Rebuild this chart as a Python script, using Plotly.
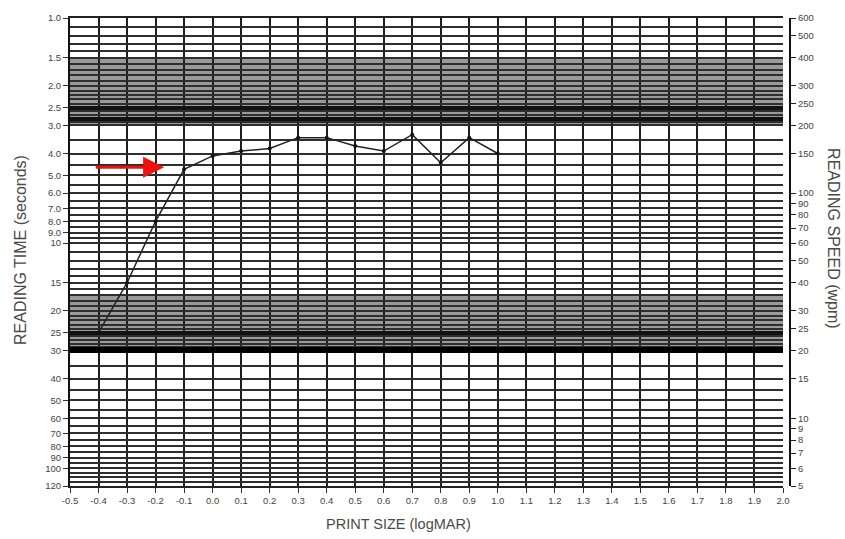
import numpy as np
import plotly.graph_objects as go

# ---------------- data ----------------
print_size = [-0.4, -0.3, -0.2, -0.1, 0.0, 0.1, 0.2, 0.3, 0.4, 0.5, 0.6, 0.7, 0.8, 0.9, 1.0]
reading_time = [25, 15, 8.0, 4.7, 4.1, 3.9, 3.8, 3.4, 3.4, 3.7, 3.9, 3.3, 4.4, 3.4, 4.0]

x_tick_vals = [-0.5, -0.4, -0.3, -0.2, -0.1, 0.0, 0.1, 0.2, 0.3, 0.4, 0.5, 0.6, 0.7,
               0.8, 0.9, 1.0, 1.1, 1.2, 1.3, 1.4, 1.5, 1.6, 1.7, 1.8, 1.9, 2.0]
x_tick_text = ["-0.5", "-0.4", "-0.3", "-0.2", "-0.1", "0.0", "0.1", "0.2", "0.3", "0.4",
               "0.5", "0.6", "0.7", "0.8", "0.9", "1.0", "1.1", "1.2", "1.3", "1.4",
               "1.5", "1.6", "1.7", "1.8", "1.9", "2.0"]

time_tick_vals = [1.0, 1.5, 2.0, 2.5, 3.0, 4.0, 5.0, 6.0, 7.0, 8.0, 9.0, 10, 15, 20, 25,
                  30, 40, 50, 60, 70, 80, 90, 100, 120]
time_tick_text = ["1.0", "1.5", "2.0", "2.5", "3.0", "4.0", "5.0", "6.0", "7.0", "8.0",
                  "9.0", "10", "15", "20", "25", "30", "40", "50", "60", "70", "80",
                  "90", "100", "120"]

speed_tick_vals = [600, 500, 400, 300, 250, 200, 150, 100, 90, 80, 70, 60, 50, 40, 30,
                   25, 20, 15, 10, 9, 8, 7, 6, 5]
speed_tick_text = ["600", "500", "400", "300", "250", "200", "150", "100", "90", "80",
                   "70", "60", "50", "40", "30", "25", "20", "15", "10", "9", "8", "7",
                   "6", "5"]

grid_time_lines = [1.0, 1.1, 1.2, 1.3, 1.4, 1.5, 1.6, 1.7, 1.8, 1.9, 2.0, 2.1, 2.2, 2.3,
                   2.4, 2.5, 2.6, 2.7, 2.8, 2.9, 3.0, 3.5, 4.0, 4.5, 5.0, 5.5, 6.0, 6.5,
                   7.0, 7.5, 8.0, 8.5, 9.0, 9.5, 10, 11, 12, 13, 14, 15, 16, 17, 18, 19,
                   20, 21, 22, 23, 24, 25, 26, 27, 28, 29, 30, 35, 40, 45, 50, 55, 60,
                   65, 70, 75, 80, 85, 90, 95, 100, 105, 110, 115, 120]
heavy_time_lines = [2.5, 2.8, 25]
heaviest_time_lines = [30]
shaded_bands = [(1.5, 3.0), (17, 30)]

TIME_MAX = 120
SPEED_MIN, SPEED_MAX = 5, 600

# ---------------- figure ----------------
fig = go.Figure()

fig.add_trace(go.Scatter(x=[x_tick_vals[0]], y=[SPEED_MAX], yaxis="y2", mode="markers",
                         marker=dict(opacity=0), hoverinfo="skip", showlegend=False))
for ax_name, vals in (("y3", grid_time_lines), ("y4", heavy_time_lines), ("y5", heaviest_time_lines)):
    fig.add_trace(go.Scatter(x=[x_tick_vals[0]], y=[vals[0]], yaxis=ax_name, mode="markers",
                             marker=dict(opacity=0), hoverinfo="skip", showlegend=False))

fig.add_trace(go.Scatter(x=print_size, y=reading_time, mode="lines+markers",
                         line=dict(color="#222222", width=1.5),
                         marker=dict(color="#111111", size=4),
                         showlegend=False))

time_range = [np.log10(TIME_MAX), 0]
tickfont = dict(family="Liberation Sans, Arial, sans-serif", size=9.5, color="#444444")

overlay_common = dict(type="log", range=time_range, overlaying="y", anchor="x",
                      showticklabels=False, ticks="", showline=False, zeroline=False,
                      showgrid=True)

fig.update_layout(
    width=845, height=539,
    margin=dict(l=70, r=55, t=14, b=53),
    paper_bgcolor="white", plot_bgcolor="white",
    font=dict(family="Liberation Sans, Arial, sans-serif", color="#444444"),
    xaxis=dict(range=[-0.5, 2.0], domain=[0, 713 / 720], tickvals=x_tick_vals,
               ticktext=x_tick_text, showgrid=True, gridcolor="#1e1e1e", gridwidth=2.2,
               ticks="outside", ticklen=5, tickcolor="#333333", showline=True,
               linecolor="#222222", linewidth=2, mirror=True, zeroline=False,
               tickfont=tickfont),
    yaxis=dict(type="log", range=time_range, tickvals=time_tick_vals,
               ticktext=time_tick_text, ticks="outside", ticklen=5, tickcolor="#333333",
               showgrid=False, showline=True, linecolor="#111111", linewidth=2,
               zeroline=False, tickfont=tickfont),
    yaxis2=dict(type="log", range=[np.log10(SPEED_MIN), np.log10(SPEED_MAX)],
                overlaying="y", side="right", anchor="free", position=1.0,
                tickvals=speed_tick_vals, ticktext=speed_tick_text, ticks="outside",
                ticklen=5, tickcolor="#222222", showgrid=False, showline=True,
                linecolor="#111111", linewidth=2, zeroline=False, tickfont=tickfont),
    yaxis3=dict(tickvals=grid_time_lines, gridcolor="#2e2e2e", gridwidth=2.2, **overlay_common),
    yaxis4=dict(tickvals=heavy_time_lines, gridcolor="#111111", gridwidth=3.5, **overlay_common),
    yaxis5=dict(tickvals=heaviest_time_lines, gridcolor="#000000", gridwidth=6, **overlay_common),
)

for lo, hi in shaded_bands:
    fig.add_shape(type="rect", xref="x", yref="y", x0=x_tick_vals[0], x1=x_tick_vals[-1],
                  y0=lo, y1=hi, fillcolor="#9a9a9a", line=dict(width=0), layer="below")

side_font = dict(family="Liberation Sans, Arial, sans-serif", size=16, color="#4a4a4a")
bottom_font = dict(family="Liberation Sans, Arial, sans-serif", size=14.5, color="#4a4a4a")
fig.add_annotation(text="READING TIME (seconds)", xref="paper", yref="paper",
                   x=(20 - 70) / 720, y=(486 - 248) / 472, textangle=-90, showarrow=False,
                   font=side_font, xanchor="center", yanchor="middle")
fig.add_annotation(text="READING SPEED (wpm)", xref="paper", yref="paper",
                   x=(834 - 70) / 720, y=(486 - 236) / 472, textangle=90, showarrow=False,
                   font=side_font, xanchor="center", yanchor="middle")
fig.add_annotation(text="PRINT SIZE (logMAR)", xref="paper", yref="paper",
                   x=(398 - 70) / 720, y=(486 - 524) / 472, showarrow=False,
                   font=bottom_font, xanchor="center", yanchor="middle")

# red arrow pointing at the critical print size
fig.add_annotation(x=-0.17, y=np.log10(4.6), ax=-0.415, ay=np.log10(4.6),
                   xref="x", yref="y", axref="x", ayref="y", text="",
                   showarrow=True, arrowhead=2, arrowsize=1.4, arrowwidth=3,
                   arrowcolor="#ee1111")

fig.write_html("out.html", config={"displayModeBar": False},
               post_script="document.body.style.margin='0';")
